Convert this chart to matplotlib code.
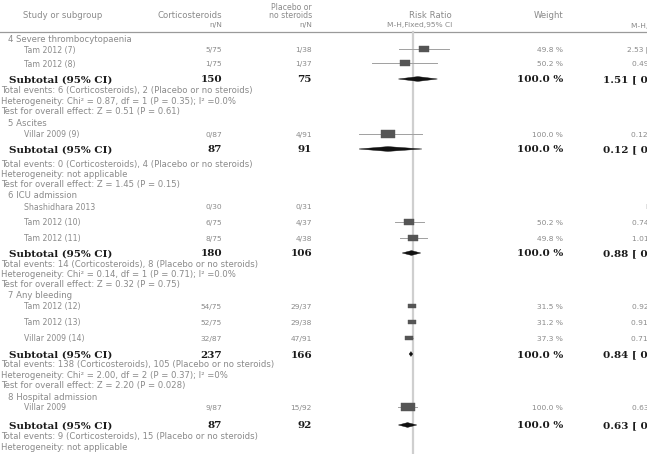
import matplotlib.pyplot as plt
import numpy as np
from matplotlib.path import Path

# ---- data -------------------------------------------------------------
group_titles = ["4 Severe thrombocytopaenia", "5 Ascites", "6 ICU admission",
                "7 Any bleeding", "8 Hospital admission"]

study_names = ["Tam 2012 (7)", "Tam 2012 (8)", "Villar 2009 (9)", "Shashidhara 2013",
               "Tam 2012 (10)", "Tam 2012 (11)", "Tam 2012 (12)", "Tam 2012 (13)",
               "Villar 2009 (14)", "Villar 2009"]
cs_events = ["5/75", "1/75", "0/87", "0/30", "6/75", "8/75", "54/75", "52/75", "32/87", "9/87"]
pl_events = ["1/38", "1/37", "4/91", "0/31", "4/37", "4/38", "29/37", "29/38", "47/91", "15/92"]
study_rr = [2.53, 0.49, 0.12, np.nan, 0.74, 1.01, 0.92, 0.91, 0.71, 0.63]
study_lo = [0.30, 0.03, 0.01, np.nan, 0.22, 0.32, 0.73, 0.72, 0.51, 0.29]
study_hi = [21.02, 7.72, 2.14, np.nan, 2.49, 3.18, 1.15, 1.15, 1.00, 1.38]
study_weight = [49.8, 50.2, 100.0, np.nan, 50.2, 49.8, 31.5, 31.2, 37.3, 100.0]

sub_n_cs = [150, 87, 180, 237, 87]
sub_n_pl = [75, 91, 106, 166, 92]
sub_rr = [1.51, 0.12, 0.88, 0.84, 0.63]
sub_lo = [0.29, 0.01, 0.40, 0.72, 0.29]
sub_hi = [7.90, 2.14, 1.93, 0.98, 1.38]

total_events = [
    "Total events: 6 (Corticosteroids), 2 (Placebo or no steroids)",
    "Total events: 0 (Corticosteroids), 4 (Placebo or no steroids)",
    "Total events: 14 (Corticosteroids), 8 (Placebo or no steroids)",
    "Total events: 138 (Corticosteroids), 105 (Placebo or no steroids)",
    "Total events: 9 (Corticosteroids), 15 (Placebo or no steroids)",
]
heterogeneity = [
    "Heterogeneity: Chi² = 0.87, df = 1 (P = 0.35); I² =0.0%",
    "Heterogeneity: not applicable",
    "Heterogeneity: Chi² = 0.14, df = 1 (P = 0.71); I² =0.0%",
    "Heterogeneity: Chi² = 2.00, df = 2 (P = 0.37); I² =0%",
    "Heterogeneity: not applicable",
]
overall_test = [
    "Test for overall effect: Z = 0.51 (P = 0.61)",
    "Test for overall effect: Z = 1.45 (P = 0.15)",
    "Test for overall effect: Z = 0.32 (P = 0.75)",
    "Test for overall effect: Z = 2.20 (P = 0.028)",
    None,
]

# ---- layout (pixel rows) ----------------------------------------------
title_y = [39, 123, 196, 296, 397]
study_y = [50, 64, 135, 207, 223, 239, 307, 323, 339, 408]
sub_y = [80, 150, 254, 355, 426]
info_y = [91, 164, 264, 365, 437]
line_gap = 10.4

W, H = 647, 454
grey = "#8a8a8a"
dark = "#1a1a1a"
prose = dict(family="DejaVu Sans", fontsize=6.1, color=grey, va="center")
name = dict(family="DejaVu Sans", fontsize=5.6, color=grey, va="center")
num = dict(family="DejaVu Sans", fontsize=5.4, color=grey, va="center")
bold = dict(family="DejaVu Serif", fontsize=7.5, weight="bold", color=dark, va="center")

fig = plt.figure(figsize=(W / 100, H / 100), dpi=100)
ax = fig.add_axes([0, 0, 1, 1])
ax.set_xlim(0, W)
ax.set_ylim(H, 0)
ax.axis("off")

# header
ax.text(23, 15, "Study or subgroup", **prose)
ax.text(222, 15, "Corticosteroids", ha="right", **prose)
ax.text(222, 25, "n/N", ha="right", **num)
ax.text(312, 7.5, "Placebo or", ha="right", **name)
ax.text(312, 15.5, "no steroids", ha="right", **name)
ax.text(312, 25, "n/N", ha="right", **num)
ax.text(430, 15, "Risk Ratio", ha="center", **prose)
ax.text(420, 25, "M-H,Fixed,95% CI", ha="center", **num)
ax.text(563, 15, "Weight", ha="right", **prose)
ax.text(631, 26, "M-H,Fixed,95% CI", ha="left", **num)
ax.plot([0, W], [31.5, 31.5], color="#9a9a9a", lw=0.9)

def rr_text(r, lo, hi):
    if np.isnan(r):
        return "Not estimable"
    return f"{r:.2f} [ {lo:.2f}, {hi:.2f} ]"

for g, title in enumerate(group_titles):
    ax.text(8, title_y[g], title, **prose)
    ax.text(9, sub_y[g], "Subtotal (95% CI)", **bold)
    ax.text(222, sub_y[g], str(sub_n_cs[g]), ha="right", **bold)
    ax.text(312, sub_y[g], str(sub_n_pl[g]), ha="right", **bold)
    ax.text(563, sub_y[g], "100.0 %", ha="right", **bold)
    ax.text(707, sub_y[g], rr_text(sub_rr[g], sub_lo[g], sub_hi[g]), ha="right", **bold)
    lines = [total_events[g], heterogeneity[g], overall_test[g]]
    for k, s in enumerate(lines):
        if s is not None:
            ax.text(1, info_y[g] + k * line_gap, s, **prose)

for i, study in enumerate(study_names):
    y = study_y[i]
    ax.text(24, y, study, **name)
    ax.text(222, y, cs_events[i], ha="right", **num)
    ax.text(312, y, pl_events[i], ha="right", **num)
    if not np.isnan(study_weight[i]):
        ax.text(563, y, f"{study_weight[i]:.1f} %", ha="right", **num)
    ax.text(699, y, rr_text(study_rr[i], study_lo[i], study_hi[i]), ha="right", **num)

# ---- forest panel (log scale, 0.01 .. 100) -----------------------------
left = 358.6
fx = fig.add_axes([left / W, 0, 108.8 / W, 1])
fx.set_xscale("log")
fx.set_xlim(0.01, 100)
fx.set_ylim(H, 0)
fx.axis("off")
fx.patch.set_alpha(0)

fx.plot([1, 1], [31.5, H], color="#cfcfcf", lw=1.6, zorder=1)

box = Path([(-1, -0.55), (1, -0.55), (1, 0.55), (-1, 0.55), (-1, -0.55)],
           [Path.MOVETO, Path.LINETO, Path.LINETO, Path.LINETO, Path.CLOSEPOLY])

for i in range(len(study_names)):
    if np.isnan(study_rr[i]):
        continue
    y = study_y[i] - 1
    fx.plot([study_lo[i], study_hi[i]], [y, y], color="#a0a0a0", lw=0.7, zorder=2)
    ms = 10 * np.sqrt(study_weight[i] / 100)
    fx.plot(study_rr[i], y, marker=box, ms=ms, color="#555555",
            markeredgecolor="#555555", markeredgewidth=0.3, zorder=3)

for g in range(len(sub_rr)):
    y = sub_y[g] - 1
    h = 2.4
    fx.fill([sub_lo[g], sub_rr[g], sub_hi[g], sub_rr[g]],
            [y, y - h, y, y + h], color="#111111", lw=0.3, zorder=3)

fig.savefig("out.png", dpi=100)
